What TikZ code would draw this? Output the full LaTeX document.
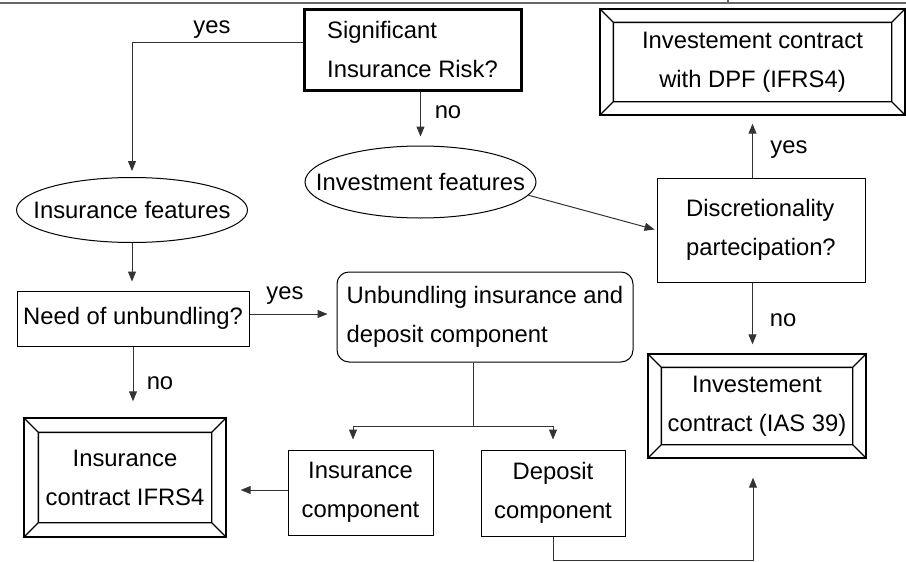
\documentclass[tikz,border=0pt]{standalone}
\usepackage{fontspec}
\setmainfont{Liberation Sans}
\usetikzlibrary{arrows.meta,shapes.geometric,calc}

% inner frame and corner bevels of a framed terminal box
\newcommand\bevelframe[2]{%
  \draw[line width=0.7pt]
    ($(#1.north west)+(#2,#2)$) rectangle ($(#1.south east)+(-#2,-#2)$)
    (#1.north west) -- ++(#2,#2)
    (#1.north east) -- ++(-#2,#2)
    (#1.south west) -- ++(#2,-#2)
    (#1.south east) -- ++(-#2,-#2);}

\begin{document}
\begin{tikzpicture}[x=0.5pt,y=-0.5pt,
  every node/.style={font=\fontsize{11.9pt}{19.5pt}\selectfont, inner sep=0pt},
  box/.style={draw, line width=0.5pt, align=center},
  thickbox/.style={draw, line width=1.5pt, align=left},
  oval/.style={draw, ellipse, line width=0.5pt},
  roundbox/.style={draw, rounded corners=6pt, line width=0.5pt, align=left},
  frame/.style={draw, line width=0.7pt, align=center},
  conn/.style={line width=0.5pt, draw=black!80},
  arr/.style={conn, -{Triangle[length=5pt,width=4pt]}},
]
\useasboundingbox (0,0) rectangle (906,562);

% page rule at the top
\draw[line width=0.6pt, black!60] (0,3) -- (906,3) (728,0) -- (728,3);

% nodes
\node[thickbox, minimum width=108.5pt, minimum height=40.5pt] (risk) at (412.5,49.5)
  {Significant\\Insurance Risk?};
\node[oval, minimum width=115.5pt, minimum height=32.5pt] (insf) at (132,210)
  {\makebox[0pt]{Insurance features}};
\node[oval, minimum width=115.5pt, minimum height=36pt] (invf) at (420.5,182)
  {\makebox[0pt]{Investment features}};
\node[box, minimum width=116pt, minimum height=27.5pt] (need) at (133,318.5) {Need of unbundling?};
\node[roundbox, minimum width=148pt, minimum height=45pt] (unb) at (485,317)
  {Unbundling insurance and\\deposit component};
\node[box, minimum width=72.5pt, minimum height=42.5pt] (insc) at (360.5,492.5) {Insurance\\component};
\node[box, minimum width=72pt, minimum height=43pt] (depc) at (553,493) {Deposit\\component};
\node[box, align=left, minimum width=104pt, minimum height=52pt] (disc) at (761,230)
  {Discretionality\\partecipation?};
\node[frame, minimum width=101pt, minimum height=59.5pt] (ifrs) at (125,477.5) {Insurance\\contract IFRS4};
\node[frame, minimum width=109pt, minimum height=52pt] (ias) at (757,406) {Investement\\contract (IAS 39)};
\node[frame, minimum width=152.5pt, minimum height=53pt] (dpf) at (752.5,62) {Investement contract\\with DPF (IFRS4)};
\bevelframe{ifrs}{15}
\bevelframe{ias}{14}
\bevelframe{dpf}{14}

% connectors
\draw[arr, shorten >=3pt] (risk.west |- 0,42) -| (insf.north);
\node (lyes1) at (212,30) {yes};
\draw[arr, shorten >=4.5pt] (invf.north |- risk.south) -- (invf.north);
\node (lno1) at (448,112) {no};
\draw[arr, shorten >=1pt] (invf.-7) -- (disc.west);
\draw[arr, shorten >=4.5pt] (insf.south) -- (insf.south |- need.north);
\draw[arr, shorten >=4.5pt] (need.east |- 0,314) -- (unb.west |- 0,314);
\node (lyes2) at (285,296) {yes};
\draw[arr, shorten >=8pt] (need.south) -- (need.south |- ifrs.north);
\node (lno2) at (160,383) {no};

\coordinate (split) at (473,426);
\draw[conn] (unb.south -| split) -- (split);
\draw[arr, shorten >=5pt] (split) -| ([xshift=-3.75pt]insc.north);
\draw[arr, shorten >=5pt] (split) -| (depc.north);
\draw[arr, shorten >=7pt] (insc.west |- 0,490) -- (ifrs.east |- 0,490);
\draw[arr, shorten >=9.5pt] (depc.south) -- ++(0,24) -| ([xshift=-2pt]ias.south);

\draw[arr, shorten >=4pt] (dpf.south |- disc.north) -- (dpf.south);
\node (lyes3) at (789,150) {yes};
\draw[arr, shorten >=4.5pt] (dpf.south |- disc.south) -- (dpf.south |- ias.north);
\node (lno3) at (783,320) {no};
\end{tikzpicture}
\end{document}
